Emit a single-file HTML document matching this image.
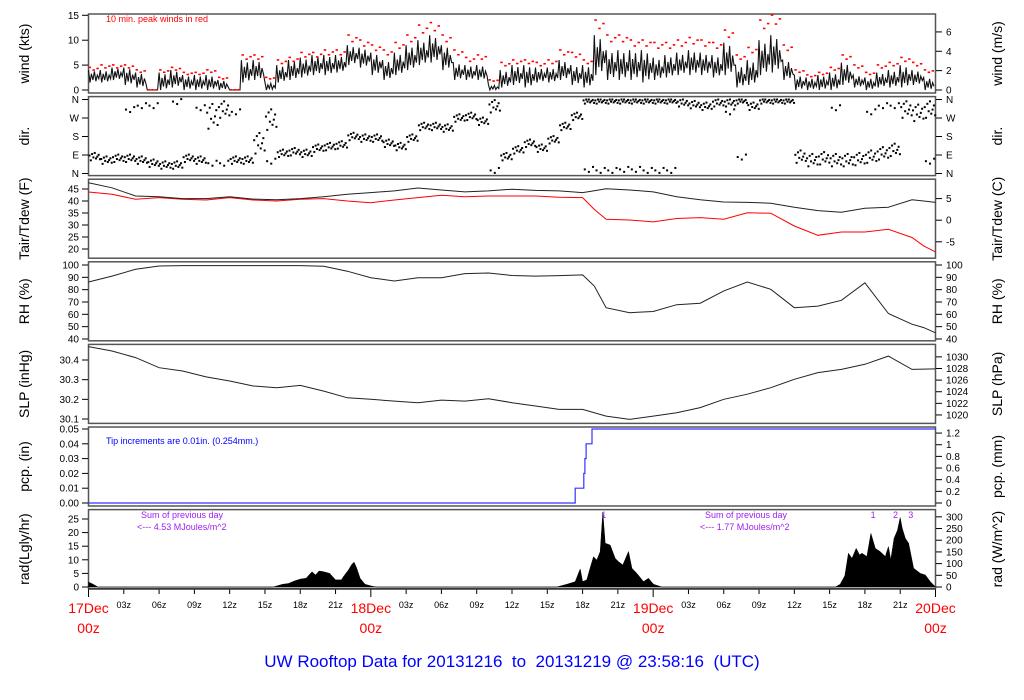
<!DOCTYPE html>
<html><head><meta charset="utf-8"><title>UW Rooftop Data</title>
<style>
html,body{margin:0;padding:0;background:#fff;}
svg{display:block;font-family:"Liberation Sans",sans-serif;}
</style></head>
<body>
<svg id="chart" xmlns="http://www.w3.org/2000/svg" width="1024" height="700" viewBox="0 0 1024 700">
<rect x="0" y="0" width="1024" height="700" fill="#fff"/>
<g id="panels"></g><g id="marks"></g><g id="axes"></g>
<text x="106" y="22" font-size="9" fill="#f00">10 min. peak winds in red</text>
<text x="106" y="444" font-size="9" fill="#00f">Tip increments are 0.01in. (0.254mm.)</text>
<text x="141" y="518" font-size="9" fill="#a020f0">Sum of previous day</text>
<text x="137" y="530" font-size="9" fill="#a020f0">&lt;--- 4.53 MJoules/m^2</text>
<text x="705" y="518" font-size="9" fill="#a020f0">Sum of previous day</text>
<text x="700" y="530" font-size="9" fill="#a020f0">&lt;--- 1.77 MJoules/m^2</text>
<text x="512" y="667" font-size="17" fill="#00f" text-anchor="middle" xml:space="preserve">UW Rooftop Data for 20131216  to  20131219 @ 23:58:16  (UTC)</text>
</svg>
<script>
// ---------- data ----------
const windHi = [4,4,4.5,4.5,3.5,0,3.5,4,3,3,3,2, 0,6,6,1.5,5,6,6.5,7,7,7,9,8.5, 7.5,6,7.5,9,10,11,9,5.5,5,5,1,4, 5,5,4.5,4.5,6,5,5,11,8,8,8,8, 6.5,7,7.5,8,7.5,7,9.5,5,6,10,11,6, 3,2.5,3,3.5,5.5,3,2.5,3.5,4,5,4,2.5];
const windLo = [1.5,1.5,2,1,0.5,0,0,0.5,0,0,0,0, 0,1.5,2,0,1.5,2,2.5,3,3,3.5,5,4.5, 3,2,3,4,5,5.5,4,2,2,2,0,0.5, 1,0.5,1.5,1.5,2,1,0.5,3,2,2,2,1.5, 2,2.5,3,3,3,2.5,3,0.5,1,3,3.5,2, 0,0,0,0,1,0.5,0,0.5,0.5,0.5,1,0];
const windPeak = [4.5,5,5,5,4,0,4,4.5,3.5,3.5,4,2.5, 0,7,7,2.5,6,6.5,7.5,7.5,8,8,11,10, 9,8,9.5,11,13,13.5,11,8,6.5,7,2,5.5, 6,6,5.5,6,8,7.5,6,14,11,11,10,10, 9.5,9.5,10,10.5,10,9.5,12,7,8.5,14,15,9, 4,3,3.5,4.5,7,5,3.5,5,5.5,6.5,5.5,4];
const dirMain = [82,65,74,74,65,50,41,41,74,65,278,311, 65,65,147,262,98,106,98,123,131,139,180,172, 172,147,131,172,229,229,221,270,278,254,327,82, 115,147,123,164,229,278,352,352,352,352,352,352, 352,352,344,335,327,344,344,352,327,352,352,352, 82,65,74,65,65,70,82,98,115,311,295,311];
const dirSpread = [18,18,18,18,18,18,18,18,18,18,60,40, 18,18,50,50,18,18,18,18,18,18,18,18, 18,18,18,18,18,18,18,18,18,18,30,18, 18,18,18,18,18,18,12,12,12,12,12,12, 12,12,18,18,18,18,18,12,18,12,12,12, 30,30,30,30,30,30,30,30,30,40,40,40];
const dirAlt = [null,null,null,311,330,330,null,350,null,320,50,50, 300,null,null,60,null,null,null,null,null,null,null,null, null,null,null,null,null,null,null,null,null,null,15,null, null,null,null,null,null,null,20,15,15,20,20,15, 15,15,null,null,null,null,300,80,null,null,null,null, null,null,null,320,null,null,300,330,330,null,null,60];
const tHours = [0,2,4,6,8,10,12,14,16,18,20,22,24,26,28,30,32,34,36,38,40,42,43,44,46,48,50,52,54,56,58,60,62,64,66,68,70,71,72];
const tair = [47.6,45.5,42.1,41.8,41.0,41.0,41.8,40.8,40.5,41,41.8,42.8,43.5,44.2,45.4,44.6,43.8,44.2,44.9,44.4,44.2,43.5,44.3,45.1,44.6,43.8,41.8,40.5,39.6,39.4,39.1,37.4,36,35.3,37.0,37.4,40.5,40.0,39.4];
const tdew = [43.75,42.8,40.7,41.4,40.7,40.4,41.4,40.4,40.0,40.7,41.0,40.0,39.3,40.4,41.4,42.4,41.8,42.1,42.1,42.1,41.6,41.4,36.5,32.4,32.1,31.3,32.7,33.1,32.4,35.1,34.9,29.6,25.7,27.1,27.1,28.2,24.8,21.3,18.8];
const rh = [86.2,91,96.5,99.2,99.5,99.5,99.5,99.5,99.5,99.5,99,95,89.7,87,89.7,89.7,93,93.5,91.5,91,91.4,92,83,65.4,61.3,62.3,67.8,69,79,86.2,80.3,65.4,66.7,71.4,85.6,60.7,52,49.2,45];
const slpHours = [0,2,4,6,8,10,12,14,16,18,20,22,24,26,28,30,32,34,36,38,40,42,44,46,48,50,52,54,56,58,60,62,64,66,68,70,72];
const slp = [30.468,30.446,30.412,30.361,30.344,30.314,30.293,30.268,30.259,30.271,30.242,30.208,30.2,30.191,30.183,30.196,30.191,30.203,30.183,30.166,30.149,30.149,30.115,30.098,30.115,30.132,30.158,30.2,30.226,30.259,30.302,30.336,30.352,30.378,30.42,30.352,30.355];
const pcpHours = [0,41.37,42.1,42.2,42.3,42.8,72];
const pcpVals = [0,0.01,0.02,0.03,0.04,0.05,0.05];
const radHours = [0,0.4,0.8, 15.7,16.5,17,17.5,18,18.5,19,19.3,19.6,20,20.5,21,21.5,21.67,22.1,22.38,22.58,22.8,23.09,23.5,24.2,24.6,
 39.8,40.66,41.37,41.8,42.0,42.36,42.64,42.93,43.21,43.5,43.72,43.92,44.35,44.77,45.05,45.42,45.9,46.19,46.61,47.18,47.6,48.03,48.74,
 63.48,63.9,64.3,64.6,64.9,65.26,65.54,65.75,66.17,66.51,66.88,67.3,67.73,68.0,68.2,68.48,68.77,69.0,69.17,69.43,69.71,70.14,70.71,71.13,71.56,72];
const radVals = [1.8,1.0,0, 0,1.0,1.3,2.2,2.9,3.2,5.6,4.4,5.9,5.6,5.0,2.6,2.6,3.8,6.3,8.3,9.1,6.9,3.2,1.0,0.2,0,
 0,1.0,1.96,6.6,2.0,2.6,6.9,11.1,9.9,13.0,27.5,16.1,15.4,10.5,9.3,8.1,13.0,6.9,5.0,2.0,3.2,1.0,0,
 0,1.0,4.2,12.4,10.5,14.2,11.8,12.4,11.2,19.7,14.2,13.0,11.2,14.8,10,17.9,20.9,25.5,21.6,17.9,16.1,6.9,5.0,4.4,2.0,0];
const tickHours = [3,6,9,12,15,18,21,27,30,33,36,39,42,45,51,54,57,60,63,66,69];
const tickLabels = ["03z","06z","09z","12z","15z","18z","21z","03z","06z","09z","12z","15z","18z","21z","03z","06z","09z","12z","15z","18z","21z"];
const dayHours = [0,24,48,72];
const dayLabels = ["17Dec","18Dec","19Dec","20Dec"];

// ---------- axis functions ----------
const X = h => 88.5 + h*847/72;
const yWind = v => 90 - v*4.98;
const yDir = d => 173.5 - d*74/360;
const yTair = F => 189 + (45-F)*2.4;
const yRH = r => 265 + (100-r)*1.233;
const ySLP = p => 360 + (30.4-p)*196.7;
const yPcp = p => 503 - p*1480;
const yRad = r => 587 - r*2.72;

const NS="http://www.w3.org/2000/svg";
function mk(tag, attrs, parent){const e=document.createElementNS(NS,tag);for(const k in attrs)e.setAttribute(k,attrs[k]);parent.appendChild(e);return e;}
const panels=document.getElementById('panels'), marks=document.getElementById('marks'), axes=document.getElementById('axes');

const panelNames=["wind","dir","temp","rh","slp","pcp","rad"];
const leftTitles=["wind (kts)","dir.","Tair/Tdew (F)","RH (%)","SLP (inHg)","pcp. (in)","rad(Lgly/hr)"];
const rightTitles=["wind (m/s)","dir.","Tair/Tdew (C)","RH (%)","SLP (hPa)","pcp. (mm)","rad (W/m^2)"];
for(let i=0;i<7;i++){
  const top=14+82.6*i;
  const r=mk('rect',{x:88.5,y:top,width:847,height:79,fill:'none',stroke:'#555','stroke-width':1.5},panels);
  
  
  const cy=top+39.5;
  const lt=mk('text',{x:0,y:0,'font-size':14,'text-anchor':'middle',transform:`translate(29,${cy}) rotate(-90)`},axes);
  lt.textContent=leftTitles[i];
  
  
  const rt=mk('text',{x:0,y:0,'font-size':14,'text-anchor':'middle',transform:`translate(1002,${cy}) rotate(-90)`},axes);
  rt.textContent=rightTitles[i];
  
  
}
function lTick(y,label,name){
  const l=mk('line',{x1:82,x2:88,y1:y,y2:y,stroke:'#000'},axes);
  
  
  const t=mk('text',{x:79,y:y+3.5,'font-size':10,'text-anchor':'end'},axes);
  t.textContent=label;
  
  
}
function rTick(y,label,name){
  const l=mk('line',{x1:936,x2:942,y1:y,y2:y,stroke:'#000'},axes);
  
  
  const t=mk('text',{x:946,y:y+3.5,'font-size':10},axes);
  t.textContent=label;
  
  
}
[0,5,10,15].forEach(v=>lTick(yWind(v),v,'wind-kts'));
[0,2,4,6].forEach(v=>rTick(yWind(v/0.5144),v,'wind-ms'));
[[0,'N'],[90,'E'],[180,'S'],[270,'W'],[360,'N']].forEach(a=>{lTick(yDir(a[0]),a[1],'dir-left');rTick(yDir(a[0]),a[1],'dir-right');});
[20,25,30,35,40,45].forEach(v=>lTick(yTair(v),v,'temp-f'));
[-5,0,5].forEach(v=>rTick(yTair(v*1.8+32),v,'temp-c'));
[40,50,60,70,80,90,100].forEach(v=>{lTick(yRH(v),v,'rh-left');rTick(yRH(v),v,'rh-right');});
[30.1,30.2,30.3,30.4].forEach(v=>lTick(ySLP(v),v.toFixed(1),'slp-inhg'));
[1020,1022,1024,1026,1028,1030].forEach(v=>rTick(ySLP(v*0.02953),v,'slp-hpa'));
[0,0.01,0.02,0.03,0.04,0.05].forEach(v=>lTick(yPcp(v),v.toFixed(2),'pcp-in'));
[0,0.2,0.4,0.6,0.8,1,1.2].forEach(v=>rTick(yPcp(v/25.4),v,'pcp-mm'));
[0,5,10,15,20,25].forEach(v=>lTick(yRad(v),v,'rad-ly'));
[0,50,100,150,200,250,300].forEach(v=>rTick(yRad(v/11.63),v,'rad-wm2'));

// time axis
tickHours.forEach((h,i)=>{
  const l=mk('line',{x1:X(h),x2:X(h),y1:589,y2:594,stroke:'#000'},axes);
  
  
  const t=mk('text',{x:X(h),y:608,'font-size':9,'text-anchor':'middle'},axes);
  t.textContent=tickLabels[i];
  
  
});
dayHours.forEach((h,i)=>{
  const l=mk('line',{x1:X(h),x2:X(h),y1:589,y2:597,stroke:'#000'},axes);
  
  
  const t=mk('text',{x:X(h),y:613,'font-size':14,'text-anchor':'middle',fill:'#f00'},axes);
  t.textContent=dayLabels[i];
  
  
  const t2=mk('text',{x:X(h),y:633,'font-size':14,'text-anchor':'middle',fill:'#f00'},axes);
  t2.textContent='00z';
  
  
});

// wind line
const wts=[1,0,0.7,0.2,0.9,0.1,0.6,0.3];
let wp=[];
windHi.forEach((hi,h)=>{const lo=windLo[h];wts.forEach((w,k)=>{wp.push(X(h+k/8).toFixed(1)+','+yWind(lo+w*(hi-lo)).toFixed(1));});});
const wl=mk('polyline',{points:wp.join(' '),fill:'none',stroke:'#111','stroke-width':1.1},marks);


const pk=[1,0.88,0.95];
windPeak.forEach((p,h)=>{pk.forEach((f,k)=>{
  const r=mk('rect',{x:X(h+k/3),y:yWind(p*f)-1,width:2.5,height:1.6,fill:'#f00'},marks);
  
  
});});
// direction
const offs=[0.3,-1,0.7,-0.2,1,-0.5,0,0.5,-0.7];
dirMain.forEach((d,h)=>{
  offs.forEach((o,k)=>{
    const v=Math.max(0,Math.min(360,d+o*dirSpread[h]));
    const r=mk('rect',{x:X(h+k/9),y:yDir(v)-1,width:2,height:2,fill:'#000'},marks);
    
    
  });
  if(dirAlt[h]!==null){[0.1,0.45,0.8].forEach((o,k)=>{
    const r=mk('rect',{x:X(h+o),y:yDir(dirAlt[h]+(k===1?-12:k*6))-1,width:2,height:2,fill:'#000'},marks);
    
    
  });}
});
function line(xs,ys,yf,color,name){
  const p=mk('polyline',{points:xs.map((h,i)=>X(h).toFixed(1)+','+yf(ys[i]).toFixed(1)).join(' '),fill:'none',stroke:color,'stroke-width':1},marks);
  
  
}
line(tHours,tdew,yTair,'#f00','tdew-line');
line(tHours,tair,yTair,'#222','tair-line');
line(tHours,rh,yRH,'#222','rh-line');
line(slpHours,slp,ySLP,'#222','slp-line');
// pcp step
let pp=[];
pcpHours.forEach((h,i)=>{if(i>0)pp.push(X(h).toFixed(1)+','+yPcp(pcpVals[i-1]).toFixed(1));pp.push(X(h).toFixed(1)+','+yPcp(pcpVals[i]).toFixed(1));});
const pl=mk('polyline',{points:pp.join(' '),fill:'none',stroke:'#33f','stroke-width':1.2},marks);


// rad area
let rp=[X(0)+','+yRad(0)];
radHours.forEach((h,i)=>rp.push(X(h).toFixed(1)+','+yRad(radVals[i]).toFixed(1)));
rp.push(X(72)+','+yRad(0));
const ra=mk('polygon',{points:rp.join(' '),fill:'#000',stroke:'#000','stroke-width':0.5},marks);


const bl=mk('line',{x1:88,x2:936,y1:589,y2:589,stroke:'#333','stroke-width':1.5},axes);


[[43.8,'1'],[66.7,'1'],[68.6,'2'],[69.9,'3']].forEach(m=>{
  const t=mk('text',{x:X(m[0]),y:518,'font-size':9,'text-anchor':'middle',fill:'#a020f0'},axes);
  t.textContent=m[1];
  
  
});
</script>
</body></html>
